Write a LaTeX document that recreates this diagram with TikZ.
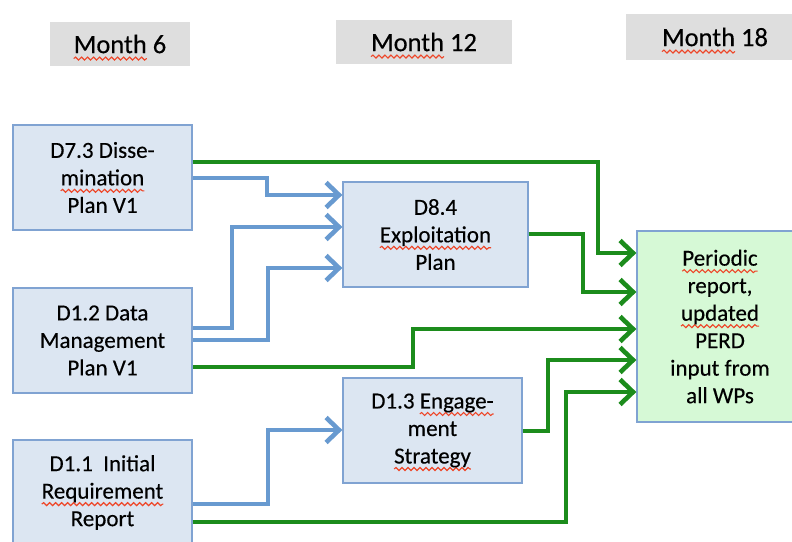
\documentclass[tikz,border=0pt]{standalone}
\usepackage{fontspec}
\setmainfont{Carlito}[FakeBold=0.3]
\usetikzlibrary{arrows.meta,decorations.pathmorphing}

\definecolor{boxfill}{RGB}{220,230,242}
\definecolor{boxline}{RGB}{128,163,210}
\definecolor{reportfill}{RGB}{214,249,214}
\definecolor{monthfill}{RGB}{222,222,222}
\definecolor{flowgreen}{RGB}{28,140,28}
\definecolor{flowblue}{RGB}{104,154,208}
\definecolor{spellred}{RGB}{238,70,40}

% red wavy underline for flagged words
\newbox\spellbox
\newdimen\spellwidth
\newcommand\spellwave[1]{\leavevmode\setbox\spellbox\hbox{#1}\spellwidth=\wd\spellbox
  \rlap{\tikz[baseline=0pt,x=1pt,y=1pt]{\useasboundingbox (0pt,0pt) rectangle (\spellwidth,0.01pt);
    \draw[spellred, line width=1.1pt, decorate,
      decoration={snake, amplitude=1.5pt, segment length=6pt}]
      (0pt,-5.5pt) -- (\spellwidth,-5.5pt);}}\box\spellbox}

\tikzset{
  dbox/.style={draw=boxline, line width=1.3pt, fill=boxfill, align=center,
    font=\fontsize{23}{27.5}\selectfont, inner sep=0pt},
  rbox/.style={dbox, fill=reportfill},
  monthbox/.style={fill=monthfill, inner sep=0pt, font=\fontsize{26.5}{30}\selectfont},
  flow/.style={line width=4.6pt, -{Straight Barb[length=13pt,width=25pt]}},
  garrow/.style={flow, draw=flowgreen},
  barrow/.style={flow, draw=flowblue},
}

\begin{document}
\begin{tikzpicture}[x=1pt, y=-1pt]
\useasboundingbox (0,0) rectangle (792,541);

% month headers
\node[monthbox, minimum width=140, minimum height=44] (m6) at (120,44) {\spellwave{Month} 6};
\node[monthbox, minimum width=176, minimum height=44] (m12) at (424,42) {\spellwave{Month} 12};
\node[monthbox, minimum width=178, minimum height=46] (m18) at (715,37) {\spellwave{Month} 18};

% deliverables
\node[dbox, minimum width=179, minimum height=105] (d73) at (102.5,177.5)
  {D7.3 Disse-\\\spellwave{mination}\\Plan V1};
\node[dbox, minimum width=179, minimum height=105] (d12) at (102.5,340.5)
  {D1.2 Data\\Management\\Plan V1};
\node[dbox, minimum width=179, minimum height=105] (d11) at (102.5,492.5)
  {D1.1~ Initial\\\spellwave{Requirement}\\Report};
\node[dbox, minimum width=185, minimum height=105] (d84) at (435.5,234.5)
  {D8.4\\\spellwave{Exploitation}\\Plan};
\node[dbox, minimum width=179, minimum height=105] (d13) at (432.5,430.5)
  {D1.3 \spellwave{Engage-}\\ment\\\spellwave{Strategy}};
\node[rbox, minimum width=166, minimum height=191] (per) at (720,326.5)
  {\spellwave{Periodic}\\report,\\\spellwave{updated}\\PERD\\input from\\all WPs};

% inputs to the exploitation and engagement plans
\draw[barrow] (d73.east |- 0,178) -| (267,195) -- (d84.west |- 0,195);
\draw[barrow] (d12.east |- 0,328) -| (232,227) -- (d84.west |- 0,227);
\draw[barrow] (d12.east |- 0,340) -| (268,268) -- (d84.west |- 0,268);
\draw[barrow] (d11.east |- 0,504) -| (268,430) -- (d13.west |- 0,430);

% inputs to the periodic report
\draw[garrow] (d73.east |- 0,162) -| (598,253) -- (per.west |- 0,253);
\draw[garrow] (d84.east |- 0,234) -| (583,292) -- (per.west |- 0,292);
\draw[garrow] (d12.east |- 0,367) -| (413,329) -- (per.west |- 0,329);
\draw[garrow] (d13.east |- 0,431) -| (548,360) -- (per.west |- 0,360);
\draw[garrow] (d11.east |- 0,522) -| (566,392) -- (per.west |- 0,392);
\end{tikzpicture}
\end{document}
